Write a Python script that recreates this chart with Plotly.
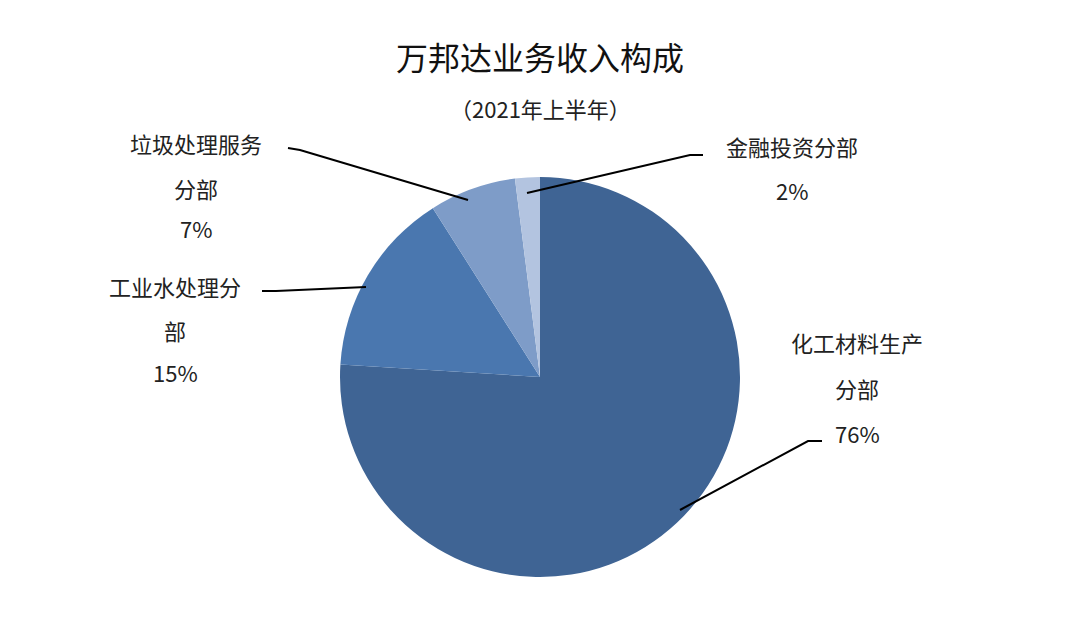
import plotly.graph_objects as go

labels = ["化工材料生产分部", "工业水处理分部", "垃圾处理服务分部", "金融投资分部"]
values = [76, 15, 7, 2]
colors = ["#3F6494", "#4A77AF", "#7E9CC8", "#B3C4E0"]
label_lines = [["化工材料生产", "分部", "76%"], ["工业水处理分", "部", "15%"],
               ["垃圾处理服务", "分部", "7%"], ["金融投资分部", "2%"]]

W, H = 1080, 624
OFF = 8  # page body margin
font = "Noto Sans CJK SC"

def px(x, y):
    return (x - OFF) / W, 1 - (y - OFF) / H

fig = go.Figure(go.Pie(
    labels=labels, values=values, sort=False, direction="clockwise", rotation=0,
    marker=dict(colors=colors, line=dict(width=0)), textinfo="none",
    showlegend=False,
    domain=dict(x=[px(340, 0)[0], px(740, 0)[0]], y=[px(0, 577)[1], px(0, 177)[1]]),
))

label_x = [857, 175, 196, 792]
label_y = [[342, 388, 433], [286, 330, 372], [143, 188, 228], [146, 190]]
for lines, x, ys in zip(label_lines, label_x, label_y):
    for txt, y in zip(lines, ys):
        ax, ay = px(x, y)
        fig.add_annotation(x=ax, y=ay, xref="paper", yref="paper", text=txt, showarrow=False,
                           xanchor="center", yanchor="middle",
                           font=dict(size=22, color="#222", family=font))

leaders = [
    [(680, 510), (808, 441), (822, 441)],
    [(262, 291), (276, 291), (366, 287)],
    [(288, 148), (300, 150), (468, 200)],
    [(527, 193), (690, 155), (703, 155)],
]
for pts in leaders:
    path = "M " + " L ".join(f"{px(x, y)[0]} {px(x, y)[1]}" for x, y in pts)
    fig.add_shape(type="path", path=path, xref="paper", yref="paper",
                  line=dict(color="black", width=2))

fig.add_annotation(x=px(540, 0)[0], y=px(0, 56)[1], xref="paper", yref="paper", text="万邦达业务收入构成",
                   showarrow=False, xanchor="center", yanchor="middle",
                   font=dict(size=32, color="#111", family=font))
fig.add_annotation(x=px(540, 0)[0], y=px(0, 108)[1], xref="paper", yref="paper", text="（2021年上半年）",
                   showarrow=False, xanchor="center", yanchor="middle",
                   font=dict(size=22, color="#222", family=font))

fig.update_layout(width=W, height=H, margin=dict(l=0, r=0, t=0, b=0),
                  paper_bgcolor="white", plot_bgcolor="white")
fig.write_html("out.html")
